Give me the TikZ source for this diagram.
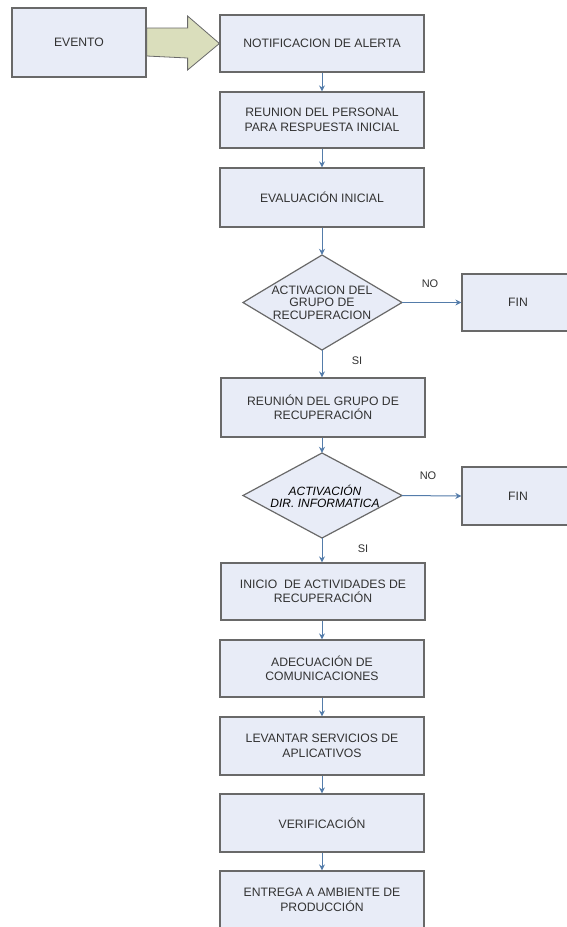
\documentclass[tikz,border=0pt]{standalone}
\usepackage{fontspec}
\setmainfont{Liberation Sans}
\usetikzlibrary{shapes.geometric,arrows.meta,calc}
\definecolor{boxfill}{RGB}{232,236,247}
\definecolor{boxline}{RGB}{105,105,105}
\definecolor{conn}{RGB}{84,124,170}
\definecolor{bigarrow}{RGB}{218,222,188}
\definecolor{txt}{RGB}{50,50,50}
\begin{document}
\begin{tikzpicture}[x=1pt,y=-1pt,
  stepbox/.style={draw=boxline,fill=boxfill,line width=1.2pt,minimum width=204pt,minimum height=57pt,inner sep=0pt,align=center,text=txt,font=\fontsize{12.2}{14.5}\selectfont},
  conarrow/.style={draw=conn,line width=1pt,-{Stealth[length=6pt,width=6pt]}},
  lbl/.style={text=txt,font=\fontsize{11}{12}\selectfont,inner sep=0pt}
]
\useasboundingbox (0,0) rectangle (567,927);
\clip (0,0) rectangle (567,927);
\fill[white] (0,0) rectangle (567,927);

\node[stepbox,minimum width=134pt,minimum height=69pt] (ev) at (79,42.5) {EVENTO};
\node[stepbox] (n1) at (322,43.5) {NOTIFICACION DE ALERTA};
\node[stepbox,minimum height=56pt] (n2) at (322,120) {REUNION DEL PERSONAL\\PARA RESPUESTA INICIAL};
\node[stepbox,minimum height=59pt] (n3) at (322,197.5) {EVALUACIÓN INICIAL};

\draw[boxline,fill=boxfill,line width=1.2pt] (243,302.5) -- (322,255) -- (402,302.5) -- (322,350) -- cycle;
\node[inner sep=0pt,minimum width=159pt,minimum height=95pt] (d1) at (322,302.5) {};
\node[align=center,text=txt,font=\fontsize{12.2}{12.5}\selectfont] at (d1.center) {ACTIVACION DEL\\GRUPO DE\\RECUPERACION};
\node[stepbox,minimum width=112pt,minimum height=57pt] (f1) at (518,302.5) {FIN};

\node[stepbox,minimum height=59pt] (n4) at (323,407.5) {REUNIÓN DEL GRUPO DE\\RECUPERACIÓN};

\draw[boxline,fill=boxfill,line width=1.2pt] (243,495.5) -- (322,453) -- (402,495.5) -- (322,538) -- cycle;
\node[inner sep=0pt,minimum width=159pt,minimum height=85pt] (d2) at (322,495.5) {};
\node[align=center,text=black,font=\fontsize{12}{12}\selectfont\itshape] at (325,496) {ACTIVACIÓN\\DIR. INFORMATICA};
\node[stepbox,minimum width=112pt,minimum height=58pt] (f2) at (518,496) {FIN};

\node[stepbox] (n5) at (323,591.5) {INICIO \ DE ACTIVIDADES DE\\RECUPERACIÓN};
\node[stepbox] (n6) at (322,668.5) {ADECUACIÓN DE\\COMUNICACIONES};
\node[stepbox,minimum height=58pt] (n7) at (322,746) {LEVANTAR SERVICIOS DE\\APLICATIVOS};
\node[stepbox,minimum height=58pt] (n8) at (322,823) {VERIFICACIÓN};
\node[stepbox,minimum height=58pt] (n9) at (322,900) {ENTREGA A AMBIENTE DE\\PRODUCCIÓN};

% block arrow
\draw[boxline,fill=bigarrow,line width=0.8pt]
  ($(ev.east)+(0,-14.5)$) -- ++(41,0) -- ++(0,-12) -- (n1.west) -- ($(ev.east)+(41,27.5)$) -- ++(0,-12) -- ($(ev.east)+(0,13.5)$) -- cycle;

\draw[conarrow] (n1.south) -- (n2.north);
\draw[conarrow] (n2.south) -- (n3.north);
\draw[conarrow] (n3.south) -- (d1.north);
\draw[conarrow] (d1.east) -- (f1.west);
\draw[conarrow] (d1.south) -- (d1.south |- n4.north);
\draw[conarrow] (n4.south -| d2.north) -- (d2.north);
\draw[conarrow] (d2.east) -- (f2.west);
\draw[conarrow] (d2.south) -- (d2.south |- n5.north);
\draw[conarrow] (n5.south -| n6.north) -- (n6.north);
\draw[conarrow] (n6.south) -- (n7.north);
\draw[conarrow] (n7.south) -- (n8.north);
\draw[conarrow] (n8.south) -- (n9.north);

\node[lbl] (no1) at (430,284) {NO};
\node[lbl] (si1) at (357,361) {SI};
\node[lbl] (no2) at (428,476) {NO};
\node[lbl] (si2) at (363,549) {SI};
\end{tikzpicture}
\end{document}
